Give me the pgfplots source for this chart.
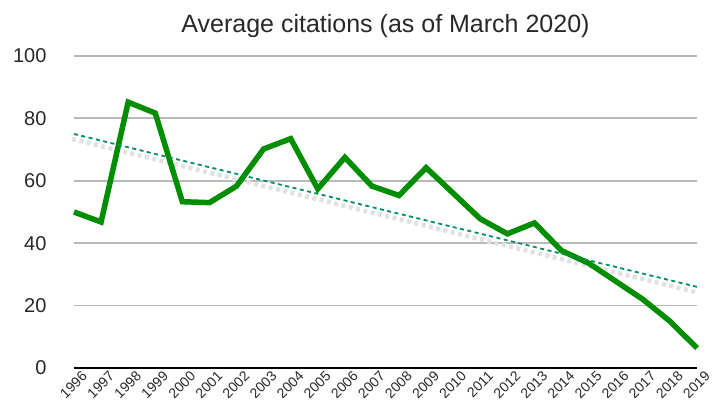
\documentclass[border=0pt]{standalone}
\usepackage{pgfplots}
\pgfplotsset{compat=1.18}
\usepackage{fontspec}
\setmainfont{Liberation Sans}
\usetikzlibrary{calc}
\definecolor{linegreen}{RGB}{0,142,0}
\definecolor{trendgreen}{RGB}{0,145,85}
\definecolor{gridgray}{RGB}{185,185,185}
\definecolor{shadowgray}{RGB}{225,225,225}
\definecolor{txt}{RGB}{40,40,40}
\begin{document}
\begin{tikzpicture}[x=1pt,y=1pt]
\begin{axis}[
  name=ax,
  scale only axis,
  width=623pt, height=312pt,
  xmin=1996, xmax=2019,
  ymin=0, ymax=100,
  ytick={0,20,...,100},
  xtick={1996,...,2019},
  xticklabel style={rotate=45, anchor=north east, font=\fontsize{14}{14}\selectfont, text=txt, xshift=7pt, yshift=-3pt},
  yticklabel style={font=\fontsize{20}{20}\selectfont, text=txt, xshift=-24pt},
  /pgf/number format/assume math mode=true,
  /pgf/number format/1000 sep={},
  ymajorgrids,
  major grid style={gridgray, line width=1.8pt},
  axis x line*=bottom,
  axis y line*=left,
  y axis line style={draw=none},
  x axis line style={black, line width=2.5pt, -},
  major tick length=0pt,
  title={Average citations (as of March 2020)},
  title style={font=\fontsize{25}{26}\selectfont, text=txt, yshift=9pt},
  clip=false,
]
\addplot[shadowgray, line width=4.5pt, dash pattern=on 4pt off 3.5pt, yshift=-5pt, xshift=-2pt] coordinates {(1996,75) (2019,26)};
\addplot[linegreen, line width=5.5pt, line join=miter, miter limit=3] coordinates {
(1996,50) (1997,46.8) (1998,85.2) (1999,81.7) (2000,53.3) (2001,53.0) (2002,58.3)
(2003,70.2) (2004,73.5) (2005,57.4) (2006,67.5) (2007,58.3) (2008,55.3) (2009,64.2)
(2010,56.0) (2011,47.8) (2012,43.0) (2013,46.5) (2014,37.6) (2015,33.6) (2016,27.8)
(2017,22.0) (2018,15.0) (2019,6.4)};
\addplot[trendgreen, line width=1.8pt, dash pattern=on 4pt off 3.5pt] coordinates {(1996,75) (2019,26)};
\end{axis}
\pgfresetboundingbox
\path ($(ax.south west)+(-74pt,-42pt)$) rectangle ($(ax.north east)+(16pt,56pt)$);
\end{tikzpicture}
\end{document}
